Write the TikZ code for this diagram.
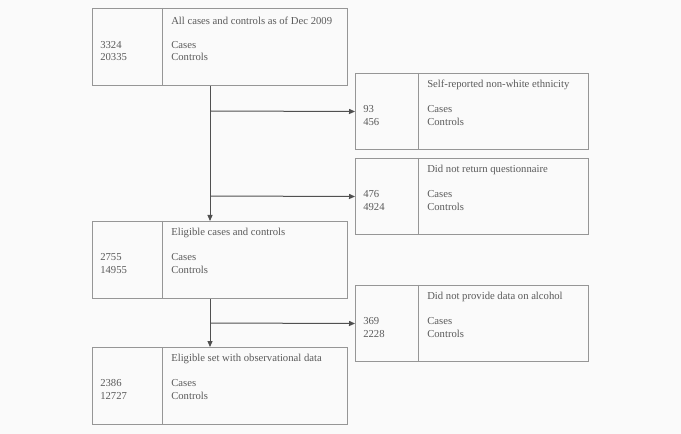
\documentclass[tikz,border=0pt]{standalone}
\usepackage{fontspec}
\setmainfont{Liberation Serif}
\usetikzlibrary{arrows.meta}
\definecolor{boxgray}{RGB}{150,150,150}
\definecolor{textgray}{RGB}{90,90,90}
\definecolor{linegray}{RGB}{80,80,80}
\definecolor{pagegray}{RGB}{250,250,250}

\begin{document}
\begin{tikzpicture}[x=0.75pt,y=0.75pt,yscale=-1,xscale=1,
  leftbox/.style={draw=boxgray,line width=0.75pt,anchor=north west,inner sep=0pt,minimum width=255*0.75pt,minimum height=77*0.75pt},
  rightbox/.style={draw=boxgray,line width=0.75pt,anchor=north west,inner sep=0pt,minimum width=233*0.75pt,minimum height=76*0.75pt},
  divider/.style={draw=boxgray,line width=0.75pt},
  boxtext/.style={anchor=west,inner sep=0pt,align=left,text=textgray,font=\fontsize{8}{9.4}\selectfont},
  flowarrow/.style={draw=linegray,line width=0.75pt,-{Triangle[length=4.5pt,width=3.8pt]}}]
%set diagram size: 681 x 434
\path [fill=pagegray] (0,0) rectangle (681,434);
\useasboundingbox (0,0) rectangle (681,434);

%Shape: Rectangle [id:all]
\node [leftbox] (all) at (92,8) {};
\draw [divider] (162,8) -- (162,85);
%Shape: Rectangle [id:ethnic]
\node [rightbox] (ethnic) at (355,73) {};
\draw [divider] (418,73) -- (418,149);
%Shape: Rectangle [id:noquest]
\node [rightbox] (noquest) at (355,158) {};
\draw [divider] (418,158) -- (418,234);
%Shape: Rectangle [id:eligible]
\node [leftbox] (eligible) at (92,221) {};
\draw [divider] (162,221) -- (162,298);
%Shape: Rectangle [id:noalc]
\node [rightbox] (noalc) at (355,285) {};
\draw [divider] (418,285) -- (418,361);
%Shape: Rectangle [id:observ]
\node [leftbox] (observ) at (92,347) {};
\draw [divider] (162,347) -- (162,424);

%Branch points on the trunk
\coordinate (j1) at (210,111);
\coordinate (j2) at (210,196);
\coordinate (j3) at (210,323);
%Straight Lines
\draw [flowarrow] (all.south -| j1) -- (eligible.north -| j1);
\draw [flowarrow] (j1) -- (ethnic.west);
\draw [flowarrow] (j2) -- (noquest.west);
\draw [flowarrow] (eligible.south -| j3) -- (observ.north -| j3);
\draw [flowarrow] (j3) -- (noalc.west);

% Text Node
\node [boxtext] (alltitle) at (171,20.5) {All cases and controls as of Dec 2009};
\node [boxtext] (alllab) at (171,51) {Cases\\Controls};
\node [boxtext] (allnum) at (100,51) {3324\\20335};
% Text Node
\node [boxtext] (ethnictitle) at (427,85) {Self-reported non-white ethnicity};
\node [boxtext] (ethniclab) at (427,115.5) {Cases\\Controls};
\node [boxtext] (ethnicnum) at (363,115.5) {93\\456};
% Text Node
\node [boxtext] (noquesttitle) at (427,170) {Did not return questionnaire};
\node [boxtext] (noquestlab) at (427,200.5) {Cases\\Controls};
\node [boxtext] (noquestnum) at (363,200.5) {476\\4924};
% Text Node
\node [boxtext] (eligibletitle) at (171,232.5) {Eligible cases and controls};
\node [boxtext] (eligiblelab) at (171,263.5) {Cases\\Controls};
\node [boxtext] (eligiblenum) at (100,263.5) {2755\\14955};
% Text Node
\node [boxtext] (noalctitle) at (427,296.5) {Did not provide data on alcohol};
\node [boxtext] (noalclab) at (427,327.5) {Cases\\Controls};
\node [boxtext] (noalcnum) at (363,327.5) {369\\2228};
% Text Node
\node [boxtext] (observtitle) at (171,358.5) {Eligible set with observational data};
\node [boxtext] (observlab) at (171,389.5) {Cases\\Controls};
\node [boxtext] (observnum) at (100,389.5) {2386\\12727};
\end{tikzpicture}
\end{document}
